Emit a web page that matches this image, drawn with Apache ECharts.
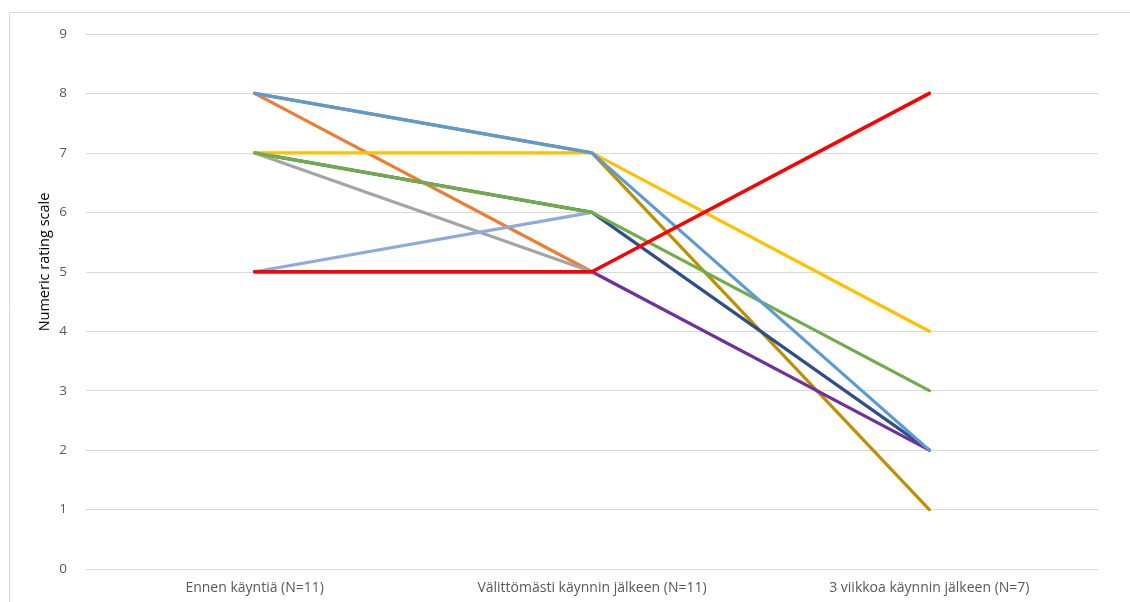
<!DOCTYPE html>
<html>
<head>
<meta charset="utf-8">
<script src="https://cdn.jsdelivr.net/npm/echarts@6/dist/echarts.min.js"></script>
<style>html,body{margin:0;padding:0;background:#fff}#c{width:1130px;height:602px}</style>
</head>
<body>
<div id="c"></div>
<script>
var categories = ['Ennen käyntiä (N=11)', 'Välittömästi käynnin jälkeen (N=11)', '3 viikkoa käynnin jälkeen (N=7)'];
var yTicks = [0, 1, 2, 3, 4, 5, 6, 7, 8, 9];
var sGold = [8, 7, 1];
var sDarkBlue = [7, 6, 2];
var sPurple = [5, 5, 2];
var sOrange = [8, 5, null];
var sGray = [7, 5, null];
var sLavender = [5, 6, null];
var sYellow = [7, 7, 4];
var sGreen = [7, 6, 3];
var sBlue = [8, 7, 2];
var sRed = [5, 5, 8];
var axisName = 'Numeric rating scale';

var seriesDefs = [
  [sGold, '#BF9000'],
  [sDarkBlue, '#2F4E8C'],
  [sPurple, '#7030A0'],
  [sOrange, '#ED7D31'],
  [sGray, '#A5A5A5'],
  [sLavender, '#8FAADC'],
  [sYellow, '#FFC000'],
  [sGreen, '#70AD47'],
  [sBlue, '#5B9BD5'],
  [sRed, '#FF0000']
];

var chart = echarts.init(document.getElementById('c'));
var font = 'Open Sans';
chart.setOption({
  animation: false,
  grid: {left: 86, right: 32, top: 34, bottom: 33, containLabel: false},
  graphic: [
    {type: 'rect', shape: {x: 9.5, y: 12.5, width: 1130, height: 620}, style: {fill: 'none', stroke: '#D9D9D9', lineWidth: 1}, z: -1},
    {type: 'text', x: 45, y: 262, rotation: Math.PI / 2, style: {text: axisName, font: '14.5px ' + font, fill: '#000', align: 'center', verticalAlign: 'middle'}}
  ],
  xAxis: {
    type: 'category', data: categories, boundaryGap: true,
    axisLine: {show: true, lineStyle: {color: '#D9D9D9', width: 1}},
    axisTick: {show: false},
    axisLabel: {color: '#595959', fontSize: 14, fontFamily: font, margin: 12}
  },
  yAxis: {
    type: 'value', min: 0, max: 9, interval: 1,
    axisLine: {show: false}, axisTick: {show: false},
    axisLabel: {color: '#595959', fontSize: 13.5, fontFamily: font, margin: 19,
      formatter: function (v) { return yTicks.indexOf(v) >= 0 ? String(v) : ''; }},
    splitLine: {lineStyle: {color: '#D9D9D9', width: 1}}
  },
  series: seriesDefs.map(function (d) {
    return {type: 'line', data: d[0], showSymbol: false, symbol: 'none', connectNulls: false,
      lineStyle: {color: d[1], width: d[1] === '#FF0000' ? 3.6 : 3.2, cap: 'round', join: 'round'},
      itemStyle: {color: d[1]}};
  })
});
</script>
</body>
</html>
